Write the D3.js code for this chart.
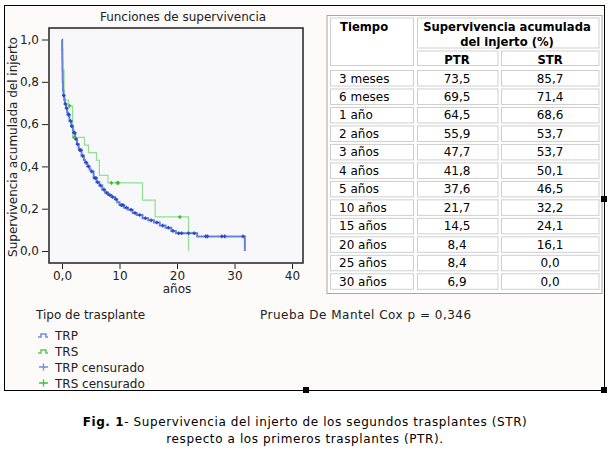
<!DOCTYPE html>
<html>
<head>
<meta charset="utf-8">
<script src="https://cdn.jsdelivr.net/npm/d3@7"></script>
<style>
  body { margin: 0; background: #fff; }
  svg { display: block; font-family: "DejaVu Sans", Verdana, sans-serif; }
</style>
</head>
<body>
<svg id="chart" width="613" height="450"></svg>
<script>
// PTR (primeros trasplantes) - survival after each drop
const ptrTimes = [0.02, 0.05, 0.08, 0.12, 0.18, 0.25, 0.4, 0.5, 0.7, 0.9, 1.0, 1.3, 1.6, 1.9, 2.0, 2.3, 2.6, 2.9, 3.0, 3.4, 3.8, 4.0, 4.4, 4.8, 5.0, 5.5, 6.0, 6.5, 7.0, 7.5, 8.0, 8.6, 9.2, 9.6, 10.0, 10.8, 11.5, 12.3, 13.0, 14.0, 15.0, 16.0, 17.0, 18.0, 19.0, 19.8, 23.5, 31.8];
const ptrSurv  = [0.95, 0.90, 0.85, 0.80, 0.76, 0.735, 0.715, 0.695, 0.675, 0.655, 0.645, 0.615, 0.59, 0.57, 0.559, 0.53, 0.505, 0.485, 0.477, 0.45, 0.43, 0.418, 0.40, 0.385, 0.376, 0.345, 0.325, 0.31, 0.29, 0.275, 0.265, 0.255, 0.245, 0.23, 0.217, 0.205, 0.195, 0.18, 0.17, 0.155, 0.145, 0.135, 0.12, 0.11, 0.095, 0.084, 0.069, 0.0];
const ptrCensored = [0.3, 0.6, 0.8, 1.1, 1.2, 1.5, 1.7, 2.1, 2.2, 2.4, 2.7, 3.1, 3.3, 3.6, 4.2, 4.6, 5.2, 5.7, 5.9, 6.2, 6.7, 7.3, 7.8, 8.3, 8.8, 9.4, 10.3, 10.6, 11.2, 12.0, 12.7, 13.5, 14.5, 15.5, 16.5, 17.5, 18.5, 19.3, 20.3, 20.8, 22.0, 23.0, 25.0, 25.3, 27.8, 28.3, 31.5];

// STR (segundos trasplantes)
const strTimes = [0.1, 0.35, 1.1, 1.85, 3.9, 4.6, 6.0, 6.5, 8.0, 14.0, 16.2, 22.0];
const strSurv  = [0.857, 0.714, 0.686, 0.537, 0.501, 0.465, 0.429, 0.358, 0.322, 0.241, 0.161, 0.0];
const strCensored = [1.3, 2.1, 8.6, 9.6, 9.8, 20.5];

const xTicks = [0, 10, 20, 30, 40];
const yTicks = [0, 0.2, 0.4, 0.6, 0.8, 1.0];

// table
const tiempos = ["3 meses", "6 meses", "1 año", "2 años", "3 años", "4 años", "5 años", "10 años", "15 años", "20 años", "25 años", "30 años"];
const ptrPct = [73.5, 69.5, 64.5, 55.9, 47.7, 41.8, 37.6, 21.7, 14.5, 8.4, 8.4, 6.9];
const strPct = [85.7, 71.4, 68.6, 53.7, 53.7, 50.1, 46.5, 32.2, 24.1, 16.1, 0.0, 0.0];

const comma = d => d3.format(".1f")(d).replace(".", ",");

const svg = d3.select("#chart");

// outer frame
svg.append("rect")
   .attr("x", 4.5).attr("y", 5.5).attr("width", 600).attr("height", 385)
   .attr("fill", "#fdfafa").attr("stroke", "#000").attr("stroke-width", 1);

// plot area
const plot = {left: 49, top: 28, right: 303, bottom: 263};
svg.append("rect")
   .attr("x", plot.left).attr("y", plot.top)
   .attr("width", plot.right - plot.left).attr("height", plot.bottom - plot.top)
   .attr("fill", "#f8f8fa").attr("stroke", "#222").attr("stroke-width", 1.5);

const x = d3.scaleLinear().domain([0, 40]).range([62, 292]);
const y = d3.scaleLinear().domain([0, 1]).range([251, 39.5]);

const yAxis = svg.append("g")
   .attr("transform", `translate(${plot.left - 1},0)`)
   .call(d3.axisLeft(y).tickValues(yTicks).tickFormat(comma).tickSize(6).tickPadding(3));
yAxis.select(".domain").remove();

const xAxis = svg.append("g")
   .attr("transform", `translate(0,${plot.bottom + 1})`)
   .call(d3.axisBottom(x).tickValues(xTicks).tickFormat(d => d === 0 ? "0,0" : d).tickSize(5).tickPadding(2));
xAxis.select(".domain").remove();

svg.selectAll(".tick text").attr("font-size", 12).attr("font-family", "DejaVu Sans, sans-serif").attr("fill", "#222");
svg.selectAll(".tick line").attr("stroke", "#222");

svg.append("text")
   .attr("x", 183).attr("y", 21).attr("text-anchor", "middle")
   .attr("font-size", 12).attr("fill", "#222")
   .text("Funciones de supervivencia");

svg.append("text")
   .attr("x", 177).attr("y", 293).attr("text-anchor", "middle")
   .attr("font-size", 12).attr("fill", "#222")
   .text("años");

svg.append("text")
   .attr("transform", "translate(17,147) rotate(-90)")
   .attr("text-anchor", "middle")
   .attr("font-size", 12).attr("fill", "#222")
   .text("Supervivencia acumulada del injerto");

// survival curves
const line = d3.line()
   .x(d => x(d[0]))
   .y(d => y(d[1]))
   .curve(d3.curveStepAfter);

function steps(times, surv) {
  return [[0, 1]].concat(times.map((t, i) => [t, surv[i]]));
}
function survAt(times, surv, t) {
  let s = 1;
  times.forEach((ti, i) => { if (ti <= t) s = surv[i]; });
  return s;
}

svg.append("path")
   .datum(steps(strTimes, strSurv))
   .attr("fill", "none")
   .attr("stroke", "#8fe08f")
   .attr("stroke-width", 1.2)
   .attr("d", line);

svg.append("path")
   .datum(steps(ptrTimes, ptrSurv))
   .attr("fill", "none")
   .attr("stroke", "#6683dc")
   .attr("stroke-width", 2)
   .attr("d", line);

function cross(t, s) {
  const cx = x(t), cy = y(s);
  return `M${cx - 1.8},${cy}h3.6M${cx},${cy - 1.8}v3.6`;
}

svg.append("g").selectAll("path")
   .data(ptrCensored)
   .join("path")
   .attr("d", t => cross(t, survAt(ptrTimes, ptrSurv, t)))
   .attr("stroke", "#2a48c4")
   .attr("stroke-width", 1.4);

svg.append("g").selectAll("path")
   .data(strCensored)
   .join("path")
   .attr("d", t => cross(t, survAt(strTimes, strSurv, t)))
   .attr("stroke", "#2fc02f")
   .attr("stroke-width", 1.4);

// legend
const legend = svg.append("g").attr("font-size", 12).attr("fill", "#222");
legend.append("text").attr("x", 36).attr("y", 319).text("Tipo de trasplante");
const legendItems = [
  {label: "TRP", color: "#6f8ce0", kind: "line"},
  {label: "TRS", color: "#5fc85f", kind: "line"},
  {label: "TRP censurado", color: "#6f8ce0", kind: "cross"},
  {label: "TRS censurado", color: "#3fc03f", kind: "cross"}
];
legendItems.forEach((d, i) => {
  const cy = 335 + i * 16;
  if (d.kind === "line") {
    legend.append("path")
      .attr("d", `M38,${cy + 2}h3v-3h5v3h2`)
      .attr("fill", "none").attr("stroke", d.color).attr("stroke-width", 1.5);
  } else {
    legend.append("path")
      .attr("d", `M39,${cy}h9M43.5,${cy - 3.5}v7`)
      .attr("stroke", d.color).attr("stroke-width", 1.3);
  }
  legend.append("text").attr("x", 55).attr("y", cy + 4.5).text(d.label);
});

svg.append("text")
   .attr("x", 260).attr("y", 319)
   .attr("font-size", 12).attr("fill", "#222")
   .attr("letter-spacing", 0.5)
   .text("Prueba De Mantel Cox p = 0,346");

// table
const tbl = svg.append("g");
tbl.append("rect")
   .attr("x", 327).attr("y", 15.5).attr("width", 275).attr("height", 278)
   .attr("fill", "#fff").attr("stroke", "#a8a8a8");

const cols = [[330, 413], [417, 497.5], [501, 598.5]];
function cell(x0, y0, x1, y1) {
  tbl.append("rect")
     .attr("x", x0 + 0.5).attr("y", y0 + 0.5)
     .attr("width", x1 - x0).attr("height", y1 - y0)
     .attr("fill", "#fff").attr("stroke", "#cfcfcf");
}
cell(cols[0][0], 17.5, cols[0][1], 65);
cell(cols[1][0], 17.5, cols[2][1], 47.5);
cell(cols[1][0], 50.5, cols[1][1], 65);
cell(cols[2][0], 50.5, cols[2][1], 65);

const tText = (tx, ty, s, anchor, bold) => tbl.append("text")
   .attr("x", tx).attr("y", ty)
   .attr("text-anchor", anchor)
   .attr("font-size", bold ? 11.6 : 12)
   .attr("font-weight", bold ? "bold" : "normal")
   .attr("fill", "#000")
   .text(s);

tText(340, 31, "Tiempo", "start", true);
tText(507, 31, "Supervivencia acumulada", "middle", true);
tText(507, 46, "del injerto (%)", "middle", true);
tText(457, 64, "PTR", "middle", true);
tText(550, 64, "STR", "middle", true);

const rowTop = i => 70 + i * 18.48;
tiempos.forEach((t, i) => {
  const r0 = rowTop(i), r1 = r0 + 15.5;
  cols.forEach(c => cell(c[0], r0, c[1], r1));
  tText(339, r0 + 12.5, t, "start", false);
  tText(457, r0 + 12.5, comma(ptrPct[i]), "middle", false);
  tText(550, r0 + 12.5, comma(strPct[i]), "middle", false);
});

// resize handles
[[306, 390], [604, 390], [604, 199]].forEach(p => {
  svg.append("rect")
     .attr("x", p[0] - 3).attr("y", p[1] - 3)
     .attr("width", 6).attr("height", 6).attr("fill", "#000");
});

// caption
const cap = svg.append("text")
   .attr("x", 305).attr("y", 426)
   .attr("text-anchor", "middle").attr("font-size", 12).attr("fill", "#000")
   .attr("letter-spacing", 0.6);
cap.append("tspan").attr("font-weight", "bold").text("Fig. 1");
cap.append("tspan").text("- Supervivencia del injerto de los segundos trasplantes (STR)");
svg.append("text")
   .attr("x", 305).attr("y", 443)
   .attr("text-anchor", "middle").attr("font-size", 12).attr("fill", "#000")
   .attr("letter-spacing", 0.6)
   .text("respecto a los primeros trasplantes (PTR).");
</script>
</body>
</html>
